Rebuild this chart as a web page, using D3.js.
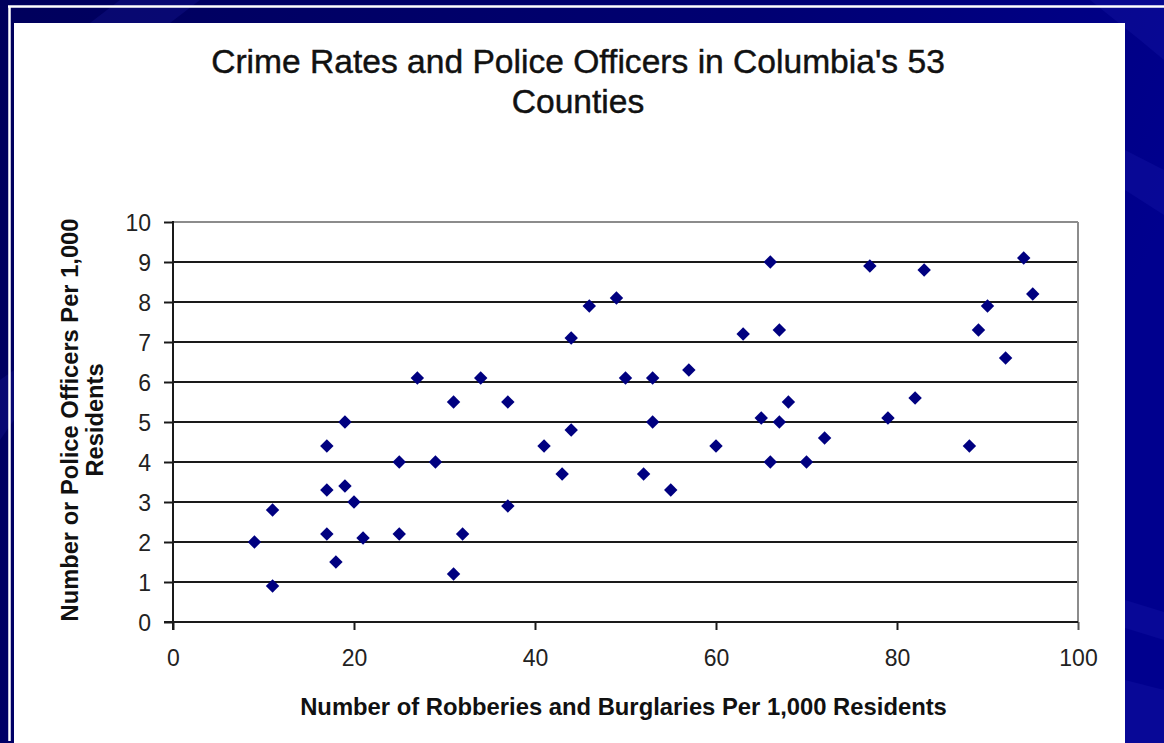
<!DOCTYPE html>
<html>
<head>
<meta charset="utf-8">
<script src="https://cdn.jsdelivr.net/npm/d3@7"></script>
<style>
  html, body { margin: 0; padding: 0; background: #000066; }
  svg { display: block; }
</style>
</head>
<body>
<svg id="chart" width="1164" height="743"></svg>
<script>
// Robberies and burglaries per 1,000 residents, one entry per county
const robberies = [9, 11, 11, 17, 17, 17, 18, 19, 19, 20, 21, 25, 25, 27, 29, 31, 31, 32, 34, 37, 37,
  41, 43, 44, 44, 46, 49, 50, 52, 53, 53, 55, 57, 60, 63, 65, 66, 66, 67, 67, 68, 70, 72,
  77, 79, 82, 83, 88, 89, 90, 92, 94, 95];
// Police officers per 1,000 residents, same county order
const officers = [2.0, 2.8, 0.9, 4.4, 3.3, 2.2, 1.5, 5.0, 3.4, 3.0, 2.1, 4.0, 2.2, 6.1, 4.0, 5.5, 1.2, 2.2, 6.1, 5.5, 2.9,
  4.4, 3.7, 7.1, 4.8, 7.9, 8.1, 6.1, 3.7, 6.1, 5.0, 3.3, 6.3, 4.4, 7.2, 5.1, 9.0, 4.0, 7.3, 5.0, 5.5, 4.0, 4.6,
  8.9, 5.1, 5.6, 8.8, 4.4, 7.3, 7.9, 6.6, 9.1, 8.2];

const xTicks = [0, 20, 40, 60, 80, 100];
const yTicks = [0, 1, 2, 3, 4, 5, 6, 7, 8, 9, 10];
const titleLines = ["Crime Rates and Police Officers in Columbia's 53", "Counties"];
const xTitle = "Number of Robberies and Burglaries Per 1,000 Residents";
const yTitleLines = ["Number or Police Officers Per 1,000", "Residents"];

const W = 1164, H = 743;
const svg = d3.select("#chart");
const defs = svg.append("defs");

// ---- slide backdrop ----
const bg = defs.append("linearGradient").attr("id", "slideBg")
  .attr("x1", "0").attr("y1", "0").attr("x2", "1").attr("y2", "0.3");
bg.append("stop").attr("offset", "0").attr("stop-color", "#00005c");
bg.append("stop").attr("offset", "0.6").attr("stop-color", "#000072");
bg.append("stop").attr("offset", "1").attr("stop-color", "#00008e");
svg.append("rect").attr("width", W).attr("height", H).attr("fill", "url(#slideBg)");

// soft diagonal streaks across the backdrop
const streaks = [
  [[1090, 0], [1164, 0], [1164, 60], [1140, 40]],
  [[1125, 150], [1164, 170], [1164, 215], [1125, 190]],
  [[1125, 600], [1164, 612], [1164, 640], [1125, 628]],
  [[1125, 680], [1164, 690], [1164, 743], [1125, 743]],
  [[0, 380], [14, 370], [14, 420], [0, 440]],
  [[120, 0], [200, 0], [170, 23], [90, 23]]
];
svg.selectAll("polygon.streak").data(streaks).join("polygon")
  .attr("class", "streak")
  .attr("points", d => d.map(p => p.join(",")).join(" "))
  .attr("fill", "#2a2ac0").attr("opacity", 0.18);

// white frame lines of the slide
svg.append("line").attr("x1", 8).attr("x2", W).attr("y1", 6.5).attr("y2", 6.5)
  .attr("stroke", "#ffffff").attr("stroke-width", 2.5);
svg.append("line").attr("x1", 9.5).attr("x2", 9.5).attr("y1", 6).attr("y2", 741)
  .attr("stroke", "#ffffff").attr("stroke-width", 2.5);

// white chart panel
svg.append("rect").attr("x", 14).attr("y", 23).attr("width", 1111).attr("height", H - 23)
  .attr("fill", "#ffffff");

// ---- chart ----
const plot = { left: 173, right: 1078, top: 222, bottom: 622 };
const x = d3.scaleLinear().domain([0, 100]).range([plot.left, plot.right]);
const y = d3.scaleLinear().domain([0, 10]).range([plot.bottom, plot.top]);

// horizontal gridlines
svg.append("g").selectAll("line").data(yTicks.filter(t => t > 0)).join("line")
  .attr("x1", plot.left).attr("x2", plot.right)
  .attr("y1", d => y(d)).attr("y2", d => y(d))
  .attr("stroke", d => d === 10 ? "#8c8c8c" : "#1a1a1a")
  .attr("stroke-width", 2);

// right edge of plot area
svg.append("line").attr("x1", plot.right).attr("x2", plot.right)
  .attr("y1", plot.top).attr("y2", plot.bottom)
  .attr("stroke", "#8c8c8c").attr("stroke-width", 2);

const tickFont = "'Liberation Sans', Arial, sans-serif";

// y axis
const yAxis = svg.append("g").attr("transform", `translate(${plot.left},0)`)
  .call(d3.axisLeft(y).tickValues(yTicks).tickSize(9).tickPadding(13).tickSizeOuter(0));
yAxis.select(".domain").remove();
yAxis.selectAll(".tick line").attr("stroke", "#1a1a1a").attr("stroke-width", 2);
yAxis.selectAll(".tick text").attr("font-family", tickFont).attr("font-size", 23)
  .attr("fill", "#222").attr("dy", "0.36em");
svg.append("line").attr("x1", plot.left).attr("x2", plot.left)
  .attr("y1", plot.top - 1).attr("y2", plot.bottom + 8)
  .attr("stroke", "#1a1a1a").attr("stroke-width", 2);

// x axis
const xAxis = svg.append("g").attr("transform", `translate(0,${plot.bottom})`)
  .call(d3.axisBottom(x).tickValues(xTicks).tickSize(8).tickSizeOuter(0));
xAxis.select(".domain").remove();
xAxis.selectAll(".tick line").attr("stroke", d => d === 100 ? "#555" : "#1a1a1a").attr("stroke-width", 2);
xAxis.selectAll(".tick text").attr("font-family", tickFont).attr("font-size", 23)
  .attr("fill", "#222").attr("y", 44).attr("dy", 0);
svg.append("line").attr("x1", plot.left - 9).attr("x2", plot.right)
  .attr("y1", plot.bottom).attr("y2", plot.bottom)
  .attr("stroke", "#1a1a1a").attr("stroke-width", 2);

// data points as diamonds
const points = robberies.map((r, i) => ({ r, o: officers[i] }));
const diamond = d3.symbol().type(d3.symbolSquare).size(90);
svg.append("g").selectAll("path").data(points).join("path")
  .attr("d", diamond)
  .attr("transform", d => `translate(${x(d.r)},${y(d.o)}) rotate(45)`)
  .attr("fill", "#000080");

// title
svg.append("g").selectAll("text").data(titleLines).join("text")
  .attr("x", 578).attr("y", (d, i) => 73 + i * 40)
  .attr("text-anchor", "middle")
  .attr("font-family", "'Liberation Sans', Arial, sans-serif")
  .attr("font-size", 33.6).attr("fill", "#111")
  .attr("stroke", "#111").attr("stroke-width", 0.45)
  .text(d => d);

// x axis title
svg.append("text").attr("x", 623.5).attr("y", 715)
  .attr("text-anchor", "middle")
  .attr("font-family", "'Liberation Sans', Arial, sans-serif")
  .attr("font-weight", "bold").attr("font-size", 23.8).attr("fill", "#111")
  .text(xTitle);

// y axis title
svg.append("g").selectAll("text").data(yTitleLines).join("text")
  .attr("transform", (d, i) => `translate(${78 + i * 25},420) rotate(-90)`)
  .attr("text-anchor", "middle")
  .attr("font-family", "'Liberation Sans', Arial, sans-serif")
  .attr("font-weight", "bold").attr("font-size", 23.7).attr("fill", "#111")
  .text(d => d);
</script>
</body>
</html>
